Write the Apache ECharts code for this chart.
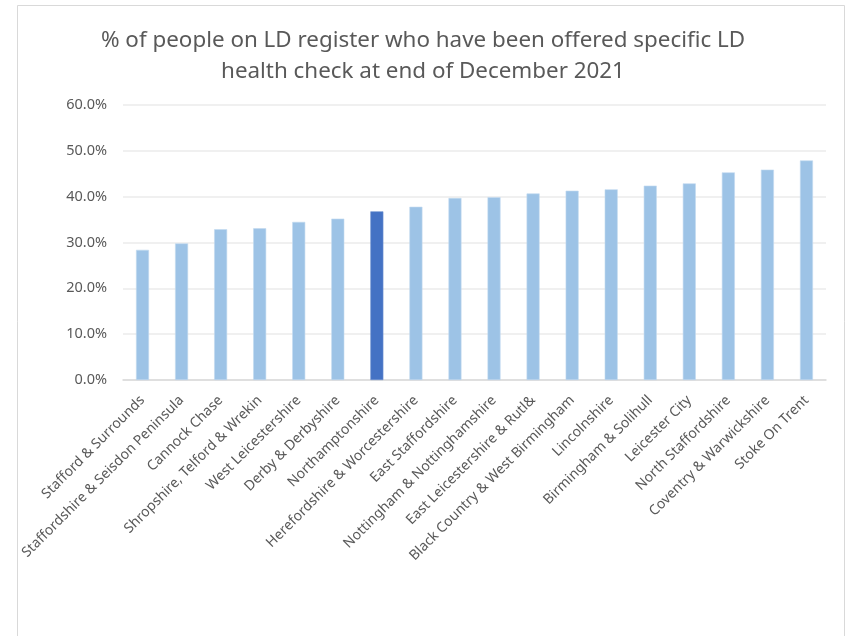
<!DOCTYPE html>
<html>
<head>
<meta charset="utf-8">
<title>LD health check offers</title>
<script src="https://cdn.jsdelivr.net/npm/echarts@6/dist/echarts.min.js"></script>
<style>
  html, body { margin: 0; padding: 0; background: #ffffff; }
  #chart { width: 846px; height: 636px; }
</style>
</head>
<body>
<div id="chart"></div>
<script>
// Areas, ordered from lowest to highest share offered a health check
const areas = [
  'Stafford & Surrounds',
  'Staffordshire & Seisdon Peninsula',
  'Cannock Chase',
  'Shropshire, Telford & Wrekin',
  'West Leicestershire',
  'Derby & Derbyshire',
  'Northamptonshire',
  'Herefordshire & Worcestershire',
  'East Staffordshire',
  'Nottingham & Nottinghamshire',
  'East Leicestershire & Rutl&',
  'Black Country & West Birmingham',
  'Lincolnshire',
  'Birmingham & Solihull',
  'Leicester City',
  'North Staffordshire',
  'Coventry & Warwickshire',
  'Stoke On Trent'
];

// Percentage of people on the LD register offered a specific LD health check
const offeredPct = [
  28.4, 29.8, 32.9, 33.1, 34.5, 35.2, 36.8, 37.8, 39.7,
  39.9, 40.7, 41.3, 41.6, 42.4, 42.9, 45.3, 45.9, 47.9
];

// Area drawn in the darker colour
const highlightArea = 'Northamptonshire';

// Value axis ticks
const yTicks = [0, 10, 20, 30, 40, 50, 60];

const titleLines = [
  '% of people on LD register who have been offered specific LD',
  'health check at end of December 2021'
];

const baseColor = '#9DC3E6';
const highlightColor = '#4472C4';
const textColor = '#595959';
const fontFamily = '"Noto Sans", "Open Sans", sans-serif';

const chart = echarts.init(document.getElementById('chart'), null, { renderer: 'canvas' });

chart.setOption({
  backgroundColor: '#ffffff',
  animation: false,
  title: {
    text: titleLines.join('\n'),
    left: 'center',
    top: 20,
    textStyle: {
      color: textColor,
      fontFamily: fontFamily,
      fontSize: 22.4,
      fontWeight: 'normal',
      lineHeight: 31
    }
  },
  graphic: [{
    type: 'rect',
    shape: { x: 17.5, y: 5.5, width: 827, height: 700 },
    style: { fill: 'none', stroke: '#d9d9d9', lineWidth: 1 },
    silent: true,
    z: -1
  }],
  grid: {
    left: 123,
    right: 20,
    top: 105,
    bottom: 256,
    containLabel: false
  },
  xAxis: {
    type: 'category',
    data: areas,
    axisTick: { show: false },
    axisLine: { show: true, lineStyle: { color: '#d9d9d9', width: 1.5 } },
    axisLabel: {
      interval: 0,
      rotate: 45,
      margin: 18,
      color: textColor,
      fontFamily: fontFamily,
      fontSize: 14
    }
  },
  yAxis: {
    type: 'value',
    min: yTicks[0],
    max: yTicks[yTicks.length - 1],
    interval: yTicks[1] - yTicks[0],
    axisLine: { show: false },
    axisTick: { show: false },
    splitLine: { show: true, lineStyle: { color: '#ebebeb', width: 1.5 } },
    axisLabel: {
      margin: 16,
      color: textColor,
      fontFamily: fontFamily,
      fontSize: 14.5,
      formatter: v => v.toFixed(1) + '%'
    }
  },
  series: [{
    type: 'bar',
    barWidth: 13,
    data: offeredPct.map((v, i) => ({
      value: v,
      itemStyle: {
        color: areas[i] === highlightArea ? highlightColor : baseColor,
        borderColor: areas[i] === highlightArea ? '#6d90d0' : '#c3daf0',
        borderWidth: 0.6
      }
    }))
  }]
});
</script>
</body>
</html>
